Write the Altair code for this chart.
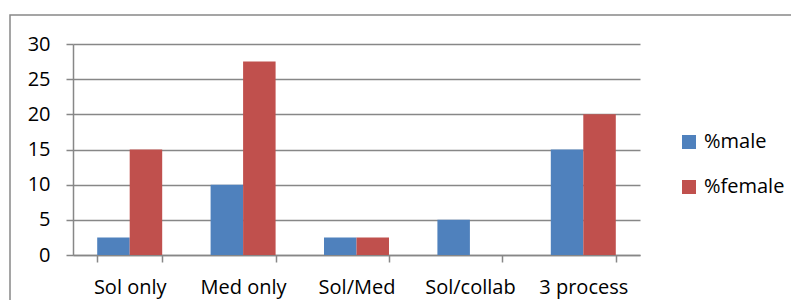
import altair as alt
import pandas as pd

categories = ["Sol only", "Med only", "Sol/Med", "Sol/collab", "3 process"]
male = [2.5, 10, 2.5, 5, 15]
female = [15, 27.5, 2.5, 0, 20]
series = ["%male", "%female"]
colors = ["#4F81BD", "#C0504D"]
y_ticks = [0, 5, 10, 15, 20, 25, 30]

rows = []
for c, m, f in zip(categories, male, female):
    rows.append({"cat": c, "series": series[0], "value": m})
    rows.append({"cat": c, "series": series[1], "value": f})
df = pd.DataFrame(rows)

FONT = "Open Sans"
GRID = "#878787"
FS = 20

bars = alt.Chart(df).mark_bar(size=32.5).encode(
    x=alt.X("cat:N", sort=categories, title=None,
            scale=alt.Scale(paddingInner=0.427, paddingOuter=0.2135),
            axis=alt.Axis(labelAngle=0, labelFontSize=FS, labelFont=FONT, labelColor="#000000",
                          labelPadding=15, tickBand="extent", tickSize=7, tickColor=GRID,
                          domainColor=GRID, domainWidth=1.5, tickWidth=1.5, grid=False)),
    xOffset=alt.XOffset("series:N", sort=series),
    y=alt.Y("value:Q", title=None,
            scale=alt.Scale(domain=[0, 30], nice=False),
            axis=alt.Axis(values=y_ticks, labelFontSize=FS, labelFont=FONT, labelColor="#000000",
                          labelPadding=16, tickSize=7, tickColor=GRID, tickWidth=1.5,
                          domainColor=GRID, domainWidth=1.5,
                          grid=True, gridColor=GRID, gridWidth=1.5)),
    color=alt.Color("series:N", sort=series, title=None,
                    scale=alt.Scale(domain=series, range=colors),
                    legend=alt.Legend(orient="none", legendX=606, legendY=88,
                                      symbolType="square", symbolSize=196, symbolStrokeWidth=0,
                                      labelFontSize=FS, labelFont=FONT, labelColor="#000000",
                                      labelOffset=5, rowPadding=25)),
)

frame = alt.Chart(pd.DataFrame({"d": [0]})).mark_rect(
    fill=None, stroke="#888888", strokeWidth=1.5, clip=False
).encode(x=alt.value(-63), x2=alt.value(800), y=alt.value(-29), y2=alt.value(300))

chart = alt.layer(frame, bars).properties(
    width=567, height=211,
    autosize=alt.AutoSizeParams(type="none"),
    padding={"left": 65, "top": 36, "right": 151, "bottom": 45},
).configure_view(stroke=None)

chart.save("out.html", embed_options={"renderer": "svg", "actions": False})
